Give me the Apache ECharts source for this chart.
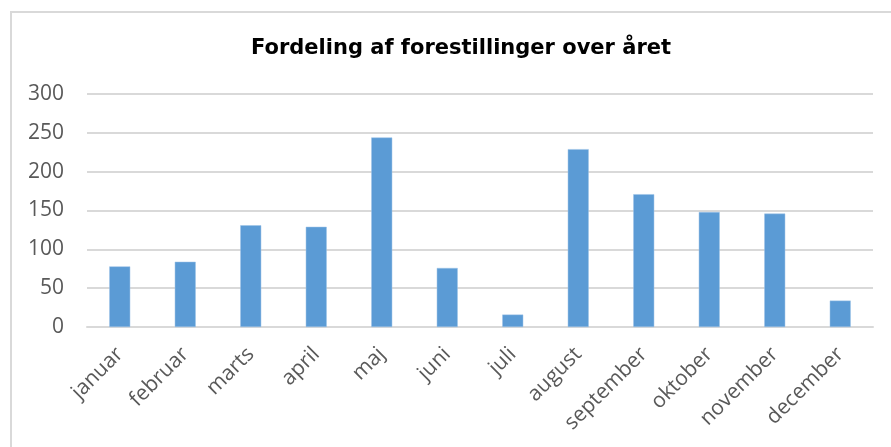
<!DOCTYPE html>
<html>
<head>
<meta charset="utf-8">
<script src="https://cdn.jsdelivr.net/npm/echarts@6/dist/echarts.min.js"></script>
<style>
html,body{margin:0;padding:0;background:#fff;}
#chart{width:891px;height:447px;}
</style>
</head>
<body>
<div id="chart"></div>
<script>
const titleText = 'Fordeling af forestillinger over året';
const months = ['januar','februar','marts','april','maj','juni','juli','august','september','oktober','november','december'];
const performances = [78, 84, 131, 129, 244, 76, 16, 229, 171, 148, 146, 34];
const yTicks = { min: 0, max: 300, interval: 50 };

const chart = echarts.init(document.getElementById('chart'));
chart.setOption({
  animation: false,
  backgroundColor: '#ffffff',
  graphic: [{
    type: 'polyline',
    shape: { points: [[11, 447], [11, 12], [891, 12]] },
    style: { stroke: '#d9d9d9', lineWidth: 2, fill: null },
    silent: true
  }],
  title: {
    text: titleText,
    left: 246,
    top: 33,
    textStyle: { fontFamily: 'DejaVu Sans', fontWeight: 'bold', fontSize: 21, color: '#000000' }
  },
  grid: { left: 87, right: 18, top: 94, bottom: 120, containLabel: false },
  xAxis: {
    type: 'category',
    data: months,
    axisLine: { show: true, lineStyle: { color: '#d9d9d9', width: 2 } },
    axisTick: { show: false },
    axisLabel: {
      rotate: 45, interval: 0, margin: 24,
      fontFamily: 'Open Sans', fontSize: 21, color: '#595959'
    }
  },
  yAxis: {
    type: 'value',
    min: yTicks.min, max: yTicks.max, interval: yTicks.interval,
    axisLine: { show: false },
    axisTick: { show: false },
    splitLine: { lineStyle: { color: '#d9d9d9', width: 2 } },
    axisLabel: { margin: 23, fontFamily: 'Open Sans', fontSize: 21, color: '#595959' }
  },
  series: [{
    type: 'bar',
    data: performances,
    barWidth: '32%',
    itemStyle: { color: '#5b9bd5', borderColor: '#9dc3e6', borderWidth: 0.5 }
  }]
});
</script>
</body>
</html>
